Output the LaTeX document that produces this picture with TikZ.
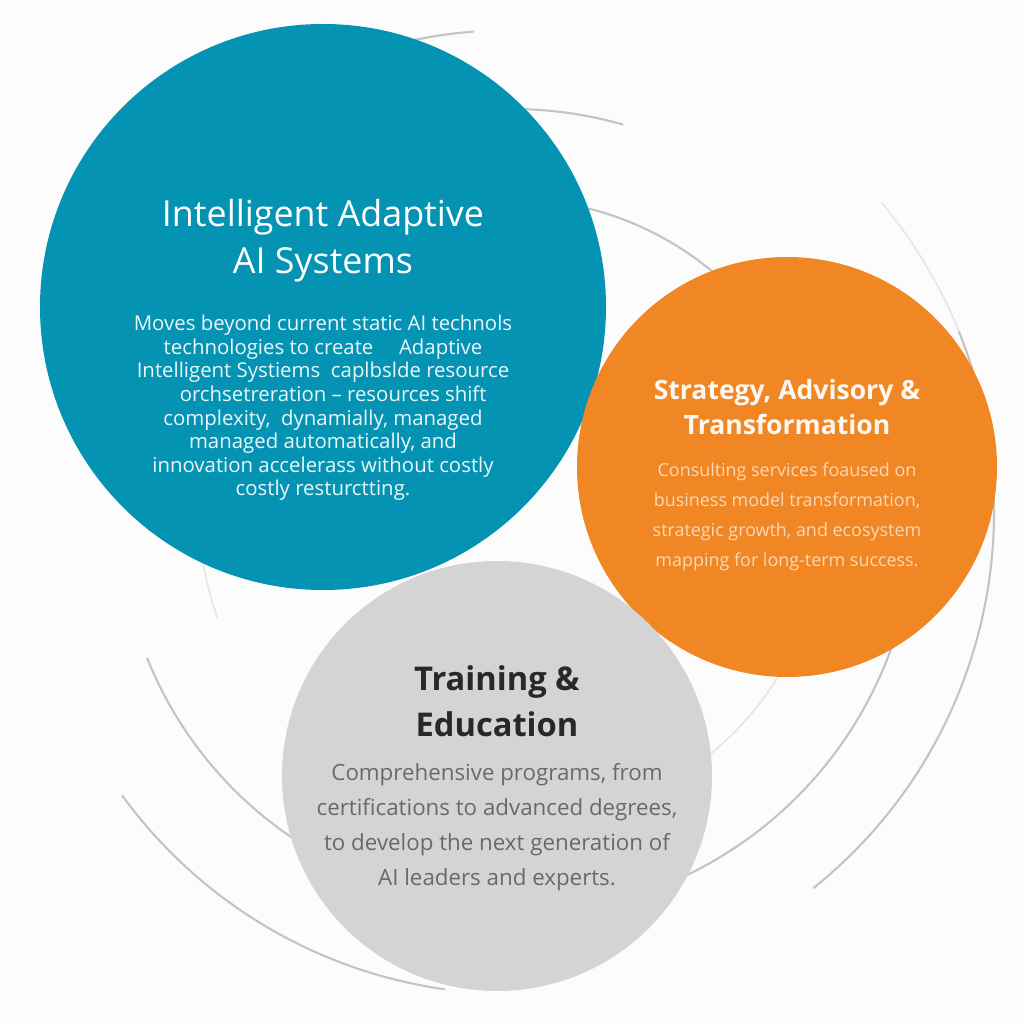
\documentclass[tikz,border=0pt]{standalone}
\usepackage{fontspec}
\setmainfont{Open Sans}
\usetikzlibrary{positioning}

\definecolor{aiblue}{RGB}{5,147,180}
\definecolor{stratorange}{RGB}{240,134,36}
\definecolor{traingray}{RGB}{212,212,212}
\definecolor{ringgray}{RGB}{196,196,196}
\definecolor{bgwhite}{RGB}{252,252,252}
\definecolor{peach}{RGB}{250,216,184}
\definecolor{inkdark}{RGB}{40,40,40}
\definecolor{inkgray}{RGB}{105,105,105}

\begin{document}
\begin{tikzpicture}[
  bubble/.style={circle, draw=none, inner sep=0pt},
  ring/.style={ringgray, line width=0.6pt},
  faintring/.style={ringgray!40, line width=0.5pt},
  head/.style={align=center, font=\bfseries\fontsize{8}{13.3}\selectfont},
  body/.style={align=center, font=\fontsize{5.5}{6.7}\selectfont},
]
\fill[bgwhite] (0,0) rectangle (10.24,10.24);
\useasboundingbox (0,0) rectangle (10.24,10.24);

% concentric rings behind the bubbles
\coordinate (hub) at (5.12,5.12);
\draw[ring] (hub) ++(94.5:4.82) arc[start angle=94.5, end angle=110, radius=4.82];
\draw[faintring] (hub) ++(40:4.82) arc[start angle=40, end angle=22, radius=4.82];
\draw[ring] (hub) ++(22:4.82) arc[start angle=22, end angle=-51.3, radius=4.82];
\draw[ring] (hub) ++(216:4.82) arc[start angle=216, end angle=262, radius=4.82];
\draw[ring] (hub) ++(74:4.03) arc[start angle=74, end angle=100, radius=4.03];
\draw[ring] (hub) ++(-10:4.03) arc[start angle=-10, end angle=-68, radius=4.03];
\draw[ring] (hub) ++(201.8:3.93) arc[start angle=201.8, end angle=240, radius=3.93];
\draw[ring] (hub) ++(85:3.13) arc[start angle=85, end angle=45, radius=3.13];
\draw[faintring] (hub) ++(-30:3.13) arc[start angle=-30, end angle=-55, radius=3.13];
\draw[faintring] (hub) ++(185:3.13) arc[start angle=185, end angle=200, radius=3.13];

% bubbles
\node[bubble, fill=aiblue, minimum size=5.66cm] (ai) at (3.23,7.17) {};
\node[bubble, fill=stratorange, minimum size=4.2cm] (strat) at (7.87,5.57) {};
\node[bubble, fill=traingray, minimum size=4.3cm] (train) at (4.97,2.48) {};

% texts
\node[head, white, font=\fontsize{10.2}{13.3}\selectfont] (aihead) at ([yshift=0.66cm]ai.center)
  {Intelligent Adaptive\\AI Systems};
\node[body, white!92!aiblue, font=\fontsize{5.8}{6.7}\selectfont] (aitext) at ([yshift=-1.01cm]ai.center)
  {Moves beyond current static AI technols\\
   technologies to create \quad Adaptive\\
   Intelligent Systiems \ caplbslde resource\\
   \quad orchsetreration -- resources shift\\
   complexity, \ dynamially, managed\\
   managed automatically, and\\
   innovation accelerass without costly\\
   costly resturctting.};

\node[head, white!94!stratorange, font=\bfseries\fontsize{7.55}{9.9}\selectfont] (strathead)
  at ([yshift=0.60cm]strat.center) {Strategy, Advisory \&\\Transformation};
\node[body, peach, font=\fontsize{5.1}{8.5}\selectfont] (strattext) at ([yshift=-0.50cm]strat.center)
  {Consulting services foaused on\\
   business model transformation,\\
   strategic growth, and ecosystem\\
   mapping for long-term success.};

\node[head, inkdark, font=\bfseries\fontsize{9.3}{13}\selectfont] (trainhead)
  at ([yshift=0.75cm]train.center) {Training \&\\Education};
\node[body, inkgray, font=\fontsize{6.35}{10}\selectfont] (traintext) at ([yshift=-0.51cm]train.center)
  {Comprehensive programs, from\\
   certifications to advanced degrees,\\
   to develop the next generation of\\
   AI leaders and experts.};
\end{tikzpicture}
\end{document}
